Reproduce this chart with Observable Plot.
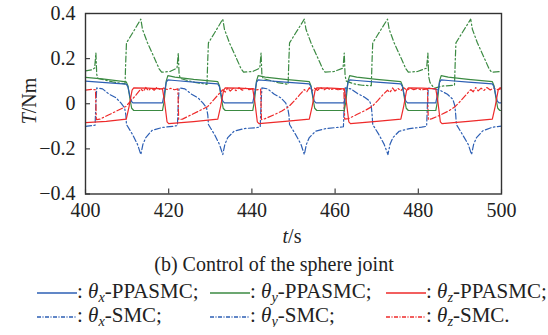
<!DOCTYPE html>
<html><head><meta charset="utf-8">
<script src="https://cdn.jsdelivr.net/npm/d3@7"></script>
<script src="https://cdn.jsdelivr.net/npm/@observablehq/plot@0.6"></script>
<style>
body{margin:0;background:#fff;font-family:"Liberation Serif","Times New Roman",serif;color:#222;}
#wrap{width:548px;}
#chart svg, #chart svg text{font-family:"Liberation Serif","Times New Roman",serif !important;}
#caption{height:29px;line-height:29px;text-align:center;font-size:20px;}
.row{position:relative;height:24px;line-height:24px;font-size:21px;}
.item{position:absolute;top:0;white-space:nowrap;}
.item svg{vertical-align:middle;}
sub{font-size:0.68em;vertical-align:-0.28em;line-height:0;}
</style></head><body>
<div id="wrap"><div id="chart"></div><div id="caption">(b) Control of the sphere joint</div><div id="legend"></div></div>
<script>
// ---- tick labels ----
const xTicks = [400, 420, 440, 460, 480, 500];
const yTicks = [-0.4, -0.2, 0, 0.2, 0.4];

// ---- series values: [t (s), T (Nm)] ----
const thetaX_PPASMC = [[400,0.100],[404,0.095],[409.8,0.087],[410.2,0.075],[410.6,0.040],[411,0.012],[411.4,0.004],[418.5,0.004],[418.9,0.040],[419.4,0.095],[419.8,0.106],[421.5,0.103],[426,0.096],[431.8,0.088],[432.2,0.075],[432.6,0.040],[433,0.012],[433.4,0.004],[440.2,0.004],[440.6,0.040],[441.1,0.095],[441.5,0.106],[443.2,0.103],[448,0.096],[453.8,0.088],[454.2,0.075],[454.6,0.040],[455,0.012],[455.4,0.004],[462.2,0.004],[462.6,0.040],[463.1,0.095],[463.5,0.106],[465.2,0.103],[470,0.096],[475.8,0.088],[476.2,0.075],[476.6,0.040],[477,0.012],[477.4,0.004],[484.2,0.004],[484.6,0.040],[485.1,0.095],[485.5,0.106],[487.2,0.103],[492,0.096],[497.8,0.088],[498.2,0.075],[498.6,0.040],[499,0.012],[499.4,0.004],[500,0.004]];

const thetaY_PPASMC = [[400,0.117],[404,0.110],[409.8,0.097],[410.2,0.080],[410.7,0.020],[411.1,-0.020],[411.6,-0.030],[418.5,-0.030],[418.9,0.010],[419.4,0.100],[419.8,0.125],[421.5,0.118],[426,0.108],[431.8,0.098],[432.2,0.080],[432.7,0.020],[433.1,-0.020],[433.6,-0.030],[440.2,-0.030],[440.6,0.010],[441.1,0.100],[441.5,0.125],[443.2,0.118],[448,0.108],[453.8,0.098],[454.2,0.080],[454.7,0.020],[455.1,-0.020],[455.6,-0.030],[462.2,-0.030],[462.6,0.010],[463.1,0.100],[463.5,0.125],[465.2,0.118],[470,0.108],[475.8,0.098],[476.2,0.080],[476.7,0.020],[477.1,-0.020],[477.6,-0.030],[484.2,-0.030],[484.6,0.010],[485.1,0.100],[485.5,0.125],[487.2,0.118],[492,0.108],[497.8,0.098],[498.2,0.080],[498.7,0.020],[499.1,-0.020],[499.6,-0.030],[500,-0.030]];

const thetaZ_PPASMC = [[400,-0.084],[405,-0.078],[409.8,-0.068],[410.5,-0.010],[411.2,0.060],[411.6,0.070],[415,0.069],[418.5,0.066],[419,0.010],[419.6,-0.080],[420,-0.088],[426,-0.079],[431.8,-0.068],[432.5,-0.010],[433.2,0.060],[433.6,0.070],[437,0.069],[440.2,0.066],[440.7,0.010],[441.3,-0.080],[441.7,-0.088],[448,-0.078],[453.8,-0.068],[454.5,-0.010],[455.2,0.060],[455.6,0.070],[459,0.069],[462.2,0.066],[462.7,0.010],[463.3,-0.080],[463.7,-0.088],[470,-0.078],[475.8,-0.068],[476.5,-0.010],[477.2,0.060],[477.6,0.070],[481,0.069],[484.2,0.066],[484.7,0.010],[485.3,-0.080],[485.7,-0.088],[492,-0.078],[497.8,-0.068],[498.5,-0.010],[499.2,0.060],[499.6,0.070],[500,0.070]];

const thetaX_SMC = [[400,-0.100],[401.5,-0.097],[402.3,-0.095],[402.5,0.000],[402.7,0.070],[404.1,0.066],[405.7,0.042],[407.3,0.027],[408.5,0.004],[409.4,-0.018],[409.7,-0.050],[409.85,-0.092],[411.3,-0.136],[412.5,-0.180],[413.3,-0.225],[413.8,-0.180],[414.5,-0.150],[416,-0.118],[418.5,-0.105],[421,-0.100],[422.1,-0.097],[422.3,0.000],[422.5,0.070],[423.9,0.066],[425.5,0.042],[427,0.027],[428.2,0.004],[429.1,-0.018],[429.4,-0.050],[429.55,-0.092],[431,-0.136],[432.2,-0.180],[433,-0.225],[433.5,-0.180],[434.2,-0.150],[435.7,-0.122],[438.2,-0.110],[441,-0.106],[442,-0.103],[442.2,0.000],[442.4,0.070],[443.8,0.066],[445.4,0.042],[446.9,0.027],[448.1,0.004],[448.6,-0.018],[448.9,-0.050],[449.05,-0.092],[450.5,-0.136],[451.8,-0.180],[452.6,-0.225],[453.1,-0.180],[453.8,-0.150],[455.3,-0.122],[457.8,-0.110],[461,-0.104],[462,-0.102],[462.2,0.000],[462.4,0.070],[463.8,0.066],[465.4,0.045],[467,0.030],[468.3,0.012],[468.7,-0.010],[468.9,-0.050],[469.05,-0.092],[470.5,-0.136],[471.8,-0.180],[472.7,-0.225],[473.2,-0.180],[473.9,-0.150],[475.4,-0.122],[477.9,-0.110],[480.8,-0.104],[482,-0.100],[482.2,0.000],[482.4,0.070],[483.8,0.066],[485.4,0.058],[487,0.042],[488.3,0.020],[488.8,-0.010],[489,-0.050],[489.15,-0.092],[490.6,-0.136],[492,-0.180],[492.8,-0.225],[493.3,-0.180],[494,-0.150],[495.5,-0.120],[497.8,-0.104],[500,-0.099]];

const thetaY_SMC = [[400,0.146],[401.5,0.150],[402.2,0.158],[402.5,0.225],[402.7,0.130],[403,0.112],[404.5,0.106],[406.5,0.097],[409.5,0.088],[409.7,0.200],[409.85,0.270],[411.2,0.310],[413.3,0.375],[413.7,0.330],[414.9,0.270],[416.5,0.205],[417.7,0.155],[418.3,0.140],[420.3,0.143],[422,0.158],[422.3,0.225],[422.5,0.130],[422.8,0.112],[424.3,0.104],[426.3,0.095],[429.2,0.086],[429.4,0.200],[429.55,0.270],[430.9,0.310],[433,0.375],[433.4,0.330],[434.6,0.270],[436.2,0.205],[437.4,0.155],[438,0.140],[440.2,0.143],[441.9,0.158],[442.2,0.225],[442.4,0.130],[442.7,0.112],[444.2,0.104],[446.2,0.094],[448.7,0.086],[448.9,0.200],[449.05,0.270],[450.4,0.310],[452.6,0.375],[453,0.330],[454.2,0.270],[455.8,0.205],[457,0.155],[457.6,0.140],[459.8,0.143],[461.9,0.158],[462.2,0.225],[462.4,0.125],[462.7,0.100],[464.5,0.088],[466.5,0.082],[468.7,0.080],[468.9,0.200],[469.05,0.270],[470.4,0.310],[472.6,0.375],[473,0.330],[474.2,0.270],[475.8,0.205],[477,0.155],[477.6,0.140],[479.8,0.143],[482,0.158],[482.3,0.225],[482.5,0.120],[482.8,0.095],[483.8,0.068],[485.5,0.078],[488.7,0.082],[488.9,0.200],[489.05,0.270],[490.4,0.310],[492.6,0.375],[493,0.330],[494.2,0.270],[495.8,0.205],[497,0.155],[497.6,0.140],[500,0.143]];

const thetaZ_SMC = [[400,0.060],[401.5,0.064],[402.4,0.062],[402.6,-0.070],[403.5,-0.068],[405.5,-0.050],[407.5,-0.032],[409.7,-0.012],[411,0.015],[412.2,0.040],[413.3,0.065],[413.9,0.055],[414.5,0.072],[415.1,0.058],[415.8,0.070],[416.5,0.060],[417.2,0.073],[418,0.062],[418.8,0.070],[419.6,0.063],[420.5,0.068],[421.4,0.062],[422.2,0.066],[422.4,-0.070],[423.3,-0.068],[425.3,-0.050],[427.3,-0.032],[429.4,-0.012],[430.7,0.015],[431.9,0.040],[433,0.062],[433.6,0.052],[434.2,0.070],[434.8,0.056],[435.5,0.068],[436.2,0.058],[436.9,0.071],[437.7,0.060],[438.5,0.069],[439.3,0.062],[440.2,0.067],[441.1,0.061],[442.1,0.065],[442.3,-0.070],[443.2,-0.066],[445.2,-0.050],[447.2,-0.032],[448.9,-0.012],[450.3,0.015],[451.5,0.040],[452.6,0.063],[453.2,0.053],[453.8,0.071],[454.4,0.057],[455.1,0.069],[455.8,0.059],[456.5,0.072],[457.3,0.061],[458.1,0.070],[458.9,0.062],[459.8,0.068],[460.7,0.062],[462.1,0.066],[462.3,-0.068],[463.2,-0.066],[465.2,-0.048],[467.2,-0.030],[468.9,-0.012],[470.3,0.015],[471.5,0.040],[472.6,0.060],[473.2,0.050],[473.8,0.070],[474.4,0.056],[475.1,0.068],[475.8,0.058],[476.5,0.071],[477.3,0.060],[478.1,0.069],[478.9,0.062],[479.8,0.068],[480.7,0.061],[482.2,0.066],[482.4,-0.070],[483.3,-0.066],[485.3,-0.050],[487.3,-0.032],[488.9,-0.012],[490.3,0.015],[491.5,0.040],[492.6,0.063],[493.2,0.053],[493.8,0.072],[494.4,0.057],[495.1,0.069],[495.8,0.059],[496.5,0.072],[497.3,0.061],[498.1,0.070],[498.9,0.062],[500,0.067]];

// ---- styling ----
const BLUE = "#2d5fb4", GREEN = "#3b8a42", RED = "#ee2a2a";
const SOLID = null, DASHDOT = "6,2.5,1.5,2.5";

const series = [
  {data: thetaY_SMC, color: GREEN, dash: DASHDOT},
  {data: thetaX_SMC, color: BLUE, dash: DASHDOT},
  {data: thetaZ_SMC, color: RED, dash: DASHDOT},
  {data: thetaY_PPASMC, color: GREEN, dash: SOLID},
  {data: thetaX_PPASMC, color: BLUE, dash: SOLID},
  {data: thetaZ_PPASMC, color: RED, dash: SOLID}
];

const W = 548, H = 250, mT = 13, mB = 56.5, mL = 85, mR = 47;
const plotW = W - mL - mR, plotH = H - mT - mB;
const AX = "#333";
const FONT = "'Liberation Serif', 'Times New Roman', serif";
const fmtY = d => d === 0 ? "0" : (d < 0 ? "\u2212" : "") + Math.abs(d).toFixed(1);

const chart = Plot.plot({
  width: W, height: H, marginTop: mT, marginBottom: mB, marginLeft: mL, marginRight: mR,
  style: {fontFamily: FONT, fontSize: "20px", color: "#222", background: "white", overflow: "visible"},
  x: {domain: [400, 500]},
  y: {domain: [-0.4, 0.4]},
  marks: [
    ...series.map(s => Plot.line(s.data, {x: d => d[0], y: d => d[1], stroke: s.color, strokeWidth: 1.2, strokeDasharray: s.dash})),
    Plot.tickX(xTicks, {x: d => d, insetTop: plotH - 5, stroke: AX, strokeWidth: 1.1}),
    Plot.tickY(yTicks, {y: d => d, insetRight: plotW - 5, stroke: AX, strokeWidth: 1.1}),
    Plot.frame({stroke: AX, strokeWidth: 1.4}),
    Plot.axisX({ticks: xTicks, tickSize: 0, tickPadding: 9, label: null, tickFormat: d => String(d), fontSize: 20}),
    Plot.axisY({ticks: yTicks, tickSize: 0, tickPadding: 10, label: null, tickFormat: fmtY, fontSize: 20})
  ]
});
document.getElementById("chart").appendChild(chart);

const svg = d3.select(chart);
svg.selectAll("text").attr("font-family", FONT);
const yl = svg.append("text").attr("transform", "translate(31,101) rotate(-90)")
  .attr("text-anchor", "middle").attr("dominant-baseline", "middle")
  .attr("font-size", 20).attr("fill", "#222").attr("font-family", FONT);
yl.append("tspan").attr("font-style", "italic").text("T");
yl.append("tspan").text("/Nm");
const xl = svg.append("text").attr("x", 292).attr("y", 238)
  .attr("text-anchor", "middle").attr("dominant-baseline", "middle")
  .attr("font-size", 20).attr("fill", "#222").attr("font-family", FONT);
xl.append("tspan").attr("font-style", "italic").text("t");
xl.append("tspan").text("/s");

// ---- legend ----
const legendRows = [
  [{c: BLUE, d: SOLID, s: "x", n: "PPASMC;"}, {c: GREEN, d: SOLID, s: "y", n: "PPASMC;"}, {c: RED, d: SOLID, s: "z", n: "PPASMC;"}],
  [{c: BLUE, d: "4,1.5,1,1.5", s: "x", n: "SMC;"}, {c: BLUE, d: "4,1.5,1,1.5", s: "y", n: "SMC;"}, {c: RED, d: "4,1.5,1,1.5", s: "z", n: "SMC."}]
];
const colX = [37, 210, 386];
const leg = document.getElementById("legend");
legendRows.forEach(row => {
  const r = document.createElement("div"); r.className = "row";
  row.forEach((it, i) => {
    const el = document.createElement("span"); el.className = "item"; el.style.left = colX[i] + "px";
    el.innerHTML = `<svg width="40" height="6"><line x1="0" x2="40" y1="3" y2="3" stroke="${it.c}" stroke-width="1.3" ${it.d ? `stroke-dasharray="${it.d}"` : ""}/></svg>: <i>θ</i><sub><i>${it.s}</i></sub>-${it.n}`;
    r.appendChild(el);
  });
  leg.appendChild(r);
});
</script>
</body></html>
